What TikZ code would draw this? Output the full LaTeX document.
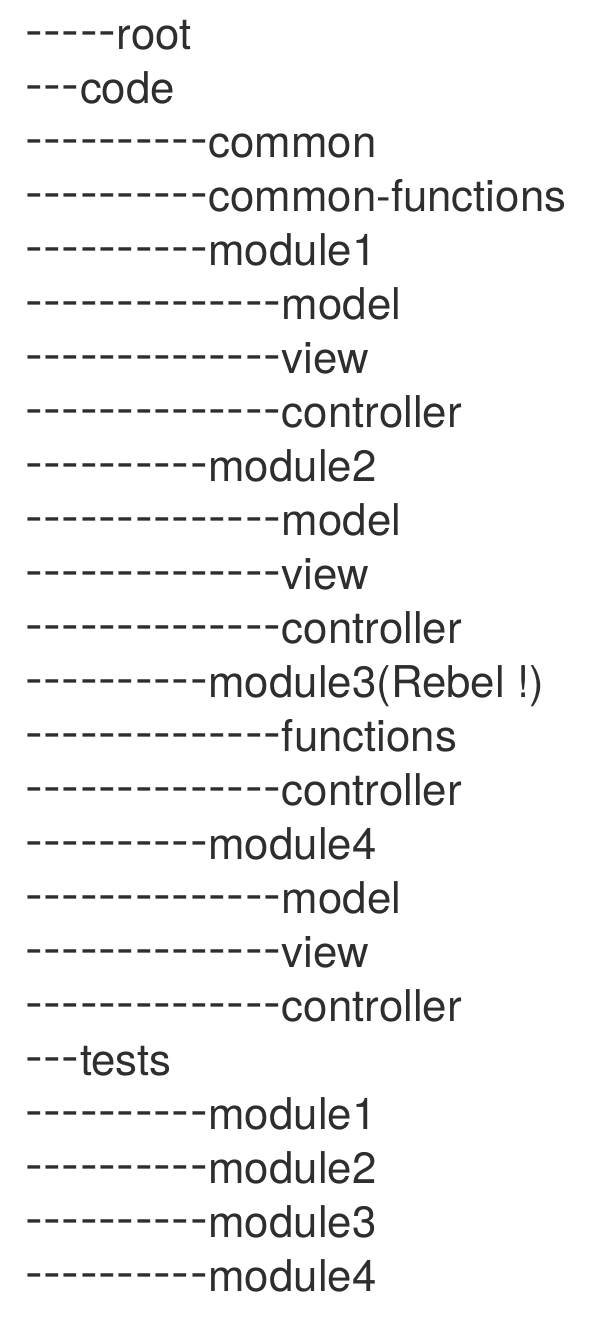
\documentclass[tikz,border=0pt]{standalone}
\usepackage{fontspec}
\setmainfont{TeX Gyre Heros}
\usepackage{graphicx}
\definecolor{txt}{HTML}{2E2E2E}
\newcommand\hy{\makebox[18.35pt][l]{\raisebox{3pt}{\scalebox{1.22}[1.08]{-}}}}
\newcommand\dfive{\hy\hy\hy\hy\hy}
\newcommand\dthree{\hy\hy\hy}
\newcommand\dten{\hy\hy\hy\hy\hy\hy\hy\hy\hy\hy}
\newcommand\dfourteen{\dten\hy\hy\hy\hy}
\begin{document}
\begin{tikzpicture}[x=1pt,y=1pt,
  line/.style={anchor=base west,inner sep=0pt,outer sep=0pt,text=txt,font=\fontsize{43.8}{50}\selectfont}]
\fill[white] (0,0) rectangle (612,-1326);
\useasboundingbox (0,0) rectangle (612,-1326);
\node[line] (l1) at (25,-49) {\dfive root};
\node[line] (l2) at (25,-103) {\dthree code};
\node[line] (l3) at (25,-157) {\dten common};
\node[line] (l4) at (25,-211) {\dten common-functions};
\node[line] (l5) at (25,-265) {\dten module1};
\node[line] (l6) at (25,-319) {\dfourteen model};
\node[line] (l7) at (25,-373) {\dfourteen view};
\node[line] (l8) at (25,-427) {\dfourteen controller};
\node[line] (l9) at (25,-481) {\dten module2};
\node[line] (l10) at (25,-535) {\dfourteen model};
\node[line] (l11) at (25,-589) {\dfourteen view};
\node[line] (l12) at (25,-643) {\dfourteen controller};
\node[line] (l13) at (25,-697) {\dten module3(Rebel !)};
\node[line] (l14) at (25,-751) {\dfourteen functions};
\node[line] (l15) at (25,-805) {\dfourteen controller};
\node[line] (l16) at (25,-859) {\dten module4};
\node[line] (l17) at (25,-913) {\dfourteen model};
\node[line] (l18) at (25,-967) {\dfourteen view};
\node[line] (l19) at (25,-1021) {\dfourteen controller};
\node[line] (l20) at (25,-1075) {\dthree tests};
\node[line] (l21) at (25,-1129) {\dten module1};
\node[line] (l22) at (25,-1183) {\dten module2};
\node[line] (l23) at (25,-1237) {\dten module3};
\node[line] (l24) at (25,-1291) {\dten module4};
\end{tikzpicture}
\end{document}
